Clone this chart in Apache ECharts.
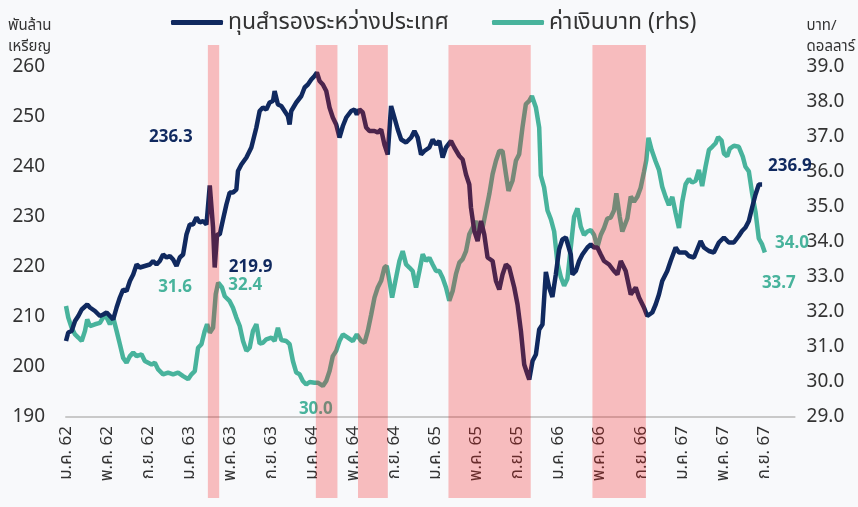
<!DOCTYPE html>
<html>
<head>
<meta charset="utf-8">
<script src="https://cdn.jsdelivr.net/npm/echarts@6/dist/echarts.min.js"></script>
<style>
  html, body { margin: 0; padding: 0; background: #f8f9fb; }
  #main { width: 858px; height: 507px; }
</style>
</head>
<body>
<div id="main"></div>
<script>
// month index: 0 = ม.ค. 62 (Jan 2019)
var xLabels = ['ม.ค. 62','พ.ค. 62','ก.ย. 62','ม.ค. 63','พ.ค. 63','ก.ย. 63','ม.ค. 64','พ.ค. 64','ก.ย. 64',
               'ม.ค. 65','พ.ค. 65','ก.ย. 65','ม.ค. 66','พ.ค. 66','ก.ย. 66','ม.ค. 67','พ.ค. 67','ก.ย. 67'];

// ทุนสำรองระหว่างประเทศ (พันล้านเหรียญ) : [month, value]
var reserves = [
  [0,205.2],[0.22,206.9],[0.55,207.2],[0.88,209.2],[1.2,210.2],[1.53,211.5],[2.07,212.5],[2.33,211.9],
  [2.82,211.2],[3.31,210.2],[3.63,210.5],[3.96,210.9],[4.28,210.2],[4.6,209.5],[4.93,211.9],[5.25,213.9],
  [5.57,215.5],[5.9,215.2],[6.23,217.2],[6.55,218.5],[6.88,220.5],[7.2,219.9],[7.68,220.2],[8.17,220.5],
  [8.49,221.2],[8.82,220.5],[9.14,221.2],[9.46,222.5],[9.8,221.9],[10.12,222.2],[10.44,221.5],[10.77,220.2],
  [11.09,221.9],[11.41,222.5],[11.74,226.5],[12.06,228.5],[12.38,228.5],[12.71,229.9],[13.04,228.9],[13.36,229.2],
  [13.69,228.5],[14.01,236.3],[14.33,227.9],[14.49,219.9],[14.72,226.5],[14.98,226.5],[15.3,229.5],[15.63,232.5],
  [15.95,234.9],[16.27,234.9],[16.6,235.5],[16.76,239.2],[17.09,240.5],[17.58,241.9],[18.06,243.9],[18.55,247.9],
  [18.87,251.2],[19.19,251.9],[19.52,251.5],[19.84,252.9],[20.17,253.2],[20.33,255.2],[20.65,252.5],[20.98,252.2],
  [21.3,251.2],[21.62,250.2],[21.79,248.5],[21.95,251.2],[22.44,252.9],[22.93,254.2],[23.25,255.9],[23.57,256.5],
  [23.9,257.5],[24.22,258.2],[24.45,258.9],[24.71,257.2],[25.03,256.5],[25.36,255.2],[25.68,251.9],[26.0,249.9],
  [26.33,248.5],[26.65,245.9],[26.98,248.2],[27.31,249.9],[27.79,251.2],[28.11,251.5],[28.34,250.5],[28.6,251.5],
  [28.92,250.9],[29.25,247.9],[29.57,247.2],[30.06,247.2],[30.38,246.9],[30.71,247.5],[31.03,244.5],[31.35,242.5],
  [31.68,252.2],[32.0,249.9],[32.33,247.5],[32.66,245.5],[33.14,244.9],[33.63,245.9],[33.95,247.2],[34.27,245.9],
  [34.6,242.5],[34.92,243.2],[35.41,243.9],[35.73,245.5],[36.06,244.5],[36.38,245.2],[36.7,241.9],[37.03,243.9],
  [37.52,245.2],[37.84,243.9],[38.33,242.2],[38.65,241.5],[38.98,238.5],[39.3,236.5],[39.46,231.9],[39.79,227.2],
  [40.11,225.2],[40.44,229.2],[40.76,226.5],[41.08,221.9],[41.57,221.2],[41.9,217.2],[42.22,215.5],[42.54,218.5],
  [42.87,220.5],[43.19,219.9],[43.68,215.9],[44.0,212.5],[44.33,207.2],[44.65,200.5],[44.97,198.5],[45.14,197.5],
  [45.46,201.2],[45.79,202.5],[46.11,207.5],[46.43,208.5],[46.76,219.0],[47.08,215.9],[47.4,214.0],[47.73,218.5],
  [48.05,223.5],[48.37,225.5],[48.71,225.9],[49.19,222.5],[49.35,218.5],[49.68,219.2],[50.0,221.2],[50.32,222.5],
  [50.81,223.9],[51.14,224.5],[51.46,223.9],[51.78,223.9],[52.11,222.5],[52.43,221.2],[52.92,220.5],[53.4,219.2],
  [53.73,218.5],[54.06,221.2],[54.54,219.2],[55.03,214.5],[55.52,215.9],[55.84,213.9],[56.32,211.9],[56.64,210.2],
  [57.13,210.9],[57.46,212.5],[57.78,214.5],[58.1,217.2],[58.59,219.2],[58.92,221.2],[59.41,223.9],[59.73,222.9],
  [60.38,222.9],[60.7,222.2],[61.19,221.9],[61.84,225.2],[62.16,223.9],[62.65,223.2],[63.13,222.9],[63.62,224.9],
  [64.11,225.9],[64.59,224.9],[65.08,224.9],[65.56,226.2],[65.88,227.2],[66.21,227.9],[66.54,229.2],[66.86,231.9],
  [67.19,234.5],[67.51,236.5],[67.83,236.5],[68.0,236.9]
];

// ค่าเงินบาท (บาท/ดอลลาร์, rhs) : [month, value]
var baht = [
  [0,32.17],[0.22,31.84],[0.55,31.55],[0.88,31.36],[1.2,31.27],[1.53,31.17],[1.85,31.46],[2.07,31.79],
  [2.33,31.6],[2.82,31.65],[3.31,31.69],[3.7,31.89],[3.96,31.84],[4.28,31.65],[4.6,31.84],[4.93,31.46],
  [5.25,31.08],[5.57,30.69],[5.9,30.55],[6.23,30.74],[6.55,30.84],[6.88,30.74],[7.36,30.79],[7.68,30.6],
  [8.01,30.55],[8.34,30.5],[8.66,30.55],[8.98,30.36],[9.46,30.22],[9.95,30.27],[10.44,30.22],[10.92,30.27],
  [11.41,30.17],[11.9,30.08],[12.23,30.22],[12.55,30.31],[12.87,30.98],[13.2,31.08],[13.52,31.46],[13.75,31.65],
  [14.01,31.41],[14.33,31.55],[14.59,32.51],[14.83,32.84],[15.2,32.7],[15.47,32.45],[15.95,32.31],[16.27,32.12],
  [16.6,31.84],[16.93,31.6],[17.25,31.17],[17.58,30.89],[17.9,30.98],[18.22,31.46],[18.55,31.65],[18.87,31.1],
  [19.19,31.12],[19.52,31.22],[20.01,31.27],[20.33,31.17],[20.65,31.55],[20.98,31.2],[21.47,31.17],[21.79,31.08],
  [22.11,30.6],[22.44,30.27],[22.76,30.22],[23.08,30.03],[23.41,29.93],[23.74,30.0],[24.22,29.98],[24.54,29.98],
  [25.03,29.89],[25.36,30.03],[25.68,30.31],[26.0,30.74],[26.33,30.89],[26.65,31.17],[26.98,31.36],[27.46,31.27],
  [27.95,31.17],[28.34,31.36],[28.76,31.17],[29.09,31.12],[29.41,31.46],[29.74,31.93],[30.06,32.41],[30.38,32.7],
  [30.71,32.89],[31.03,33.27],[31.25,33.32],[31.52,32.89],[31.78,32.41],[32.1,32.89],[32.49,33.46],[32.81,33.74],
  [33.14,33.36],[33.46,33.27],[33.78,33.17],[34.11,32.7],[34.44,33.17],[34.76,33.65],[35.09,33.46],[35.41,33.55],
  [35.73,33.36],[36.06,33.17],[36.38,33.17],[36.7,32.98],[37.03,32.7],[37.35,32.32],[37.68,32.6],[38.0,33.08],
  [38.33,33.41],[38.65,33.51],[38.98,33.74],[39.3,34.22],[39.62,34.41],[39.95,34.6],[40.27,34.27],[40.6,34.41],
  [40.92,34.89],[41.25,35.37],[41.57,35.94],[41.9,36.32],[42.22,36.6],[42.54,36.6],[42.87,35.94],[43.12,35.46],
  [43.51,35.75],[43.84,36.32],[44.16,36.51],[44.48,37.27],[44.81,37.94],[45.14,38.03],[45.4,38.17],[45.79,37.84],
  [46.11,37.27],[46.27,35.9],[46.59,35.56],[46.92,34.9],[47.25,34.65],[47.57,34.3],[47.89,33.4],[48.22,33.0],
  [48.54,32.75],[48.86,32.95],[49.19,33.85],[49.51,34.72],[49.84,34.96],[50.16,34.44],[50.48,34.2],[50.81,34.3],
  [51.14,34.34],[51.46,34.2],[51.78,33.85],[52.11,34.2],[52.43,34.4],[52.75,34.67],[53.08,34.7],[53.4,34.9],
  [53.63,35.39],[53.96,34.72],[54.21,34.3],[54.7,34.67],[55.03,35.3],[55.35,35.15],[55.67,35.29],[56.0,35.55],
  [56.32,36.0],[56.55,36.34],[56.76,36.98],[57.07,36.63],[57.46,36.3],[57.78,36.06],[58.1,35.58],[58.43,35.29],
  [58.75,35.05],[59.08,35.29],[59.41,34.82],[59.73,34.4],[60.05,35.15],[60.38,35.65],[60.7,35.8],[61.02,35.7],
  [61.35,35.75],[61.67,36.06],[61.99,35.6],[62.32,36.15],[62.65,36.63],[62.97,36.72],[63.3,36.82],[63.55,37.0],
  [63.88,36.9],[64.11,36.53],[64.43,36.45],[64.69,36.67],[65.08,36.75],[65.56,36.72],[65.95,36.44],[66.21,36.15],
  [66.54,36.02],[66.86,35.39],[67.19,34.86],[67.51,34.1],[67.83,33.93],[68.1,33.7]
];

// shaded periods [start month, end month]
var bands = [[13.8, 14.9], [24.3, 26.4], [28.4, 31.3], [37.2, 45.2], [51.2, 56.4]];

// annotated points: [index into series, text]
var reserveNotes = [[41, '236.3'], [43, '219.9'], [reserves.length - 1, '236.9']];
var bahtNotes = [[39, '31.6'], [43, '32.4'], [72, '30.0'], [baht.length - 2, '34.0'], [baht.length - 1, '33.7']];

var NAVY = '#10295f';
var TEAL = '#48b39c';
var FONT = '"Noto Sans", "Noto Sans Thai", "DejaVu Sans", sans-serif';

var reserveOffsets = [[-39, -48], [36, 0], [26, -16]];
var bahtOffsets = [[-32, -37], [27, 3], [-7, 23], [30, -1], [14, 31]];

function notes(list, series, offsets) {
  return list.map(function (n, i) {
    var p = series[n[0]];
    return { coord: [p[0], p[1]], value: n[1], label: { offset: offsets[i] } };
  });
}

var legendBase = {
  top: 6,
  itemWidth: 52,
  itemHeight: 5,
  icon: 'roundRect'
};

var chart = echarts.init(document.getElementById('main'));
var option = {
  backgroundColor: '#f8f9fb',
  textStyle: { fontFamily: FONT },
  legend: [
    Object.assign({}, legendBase, {
      left: 166,
      data: ['ทุนสำรองระหว่างประเทศ'],
      textStyle: { fontSize: 23, color: '#333', fontFamily: FONT }
    }),
    Object.assign({}, legendBase, {
      left: 487,
      data: ['ค่าเงินบาท (rhs)'],
      textStyle: { fontSize: 23, color: '#333', fontFamily: FONT }
    })
  ],
  grid: [
    { left: 66, right: 62, top: 67, bottom: 90 },
    { left: 66, right: 62, top: 45, bottom: 9 }
  ],
  xAxis: [
    {
      type: 'value', gridIndex: 0, min: 0, max: 71, interval: 4,
      axisLine: { lineStyle: { color: '#c9c9c9', width: 2 } },
      axisTick: { show: false },
      splitLine: { show: false },
      axisLabel: {
        rotate: 90, margin: 9, fontSize: 17, color: '#333',
        formatter: function (v) { return xLabels[v / 4] || ''; }
      }
    },
    { type: 'value', gridIndex: 1, min: 0, max: 71, show: false }
  ],
  yAxis: [
    {
      type: 'value', gridIndex: 0, min: 190, max: 260, interval: 10,
      name: 'พันล้าน\nเหรียญ', nameGap: 10,
      nameTextStyle: { fontSize: 15, color: '#333', align: 'left', padding: [0, 0, 0, -58], lineHeight: 21 },
      axisLine: { show: false }, axisTick: { show: false }, splitLine: { show: false },
      axisLabel: { fontSize: 19, color: '#333', margin: 21 }
    },
    {
      type: 'value', gridIndex: 0, min: 29, max: 39, interval: 1, position: 'right',
      name: 'บาท/\nดอลลาร์', nameGap: 10,
      nameTextStyle: { fontSize: 15, color: '#333', align: 'left', padding: [0, 0, 0, 12], lineHeight: 21 },
      axisLine: { show: false }, axisTick: { show: false }, splitLine: { show: false },
      axisLabel: { fontSize: 19, color: '#333', margin: 12, formatter: function (v) { return v.toFixed(1); } }
    },
    { type: 'value', gridIndex: 1, min: 0, max: 1, show: false }
  ],
  series: [
    {
      name: 'ค่าเงินบาท (rhs)',
      type: 'line', xAxisIndex: 0, yAxisIndex: 1, z: 2,
      data: baht, showSymbol: false, symbol: 'none',
      lineStyle: { color: TEAL, width: 4.5 }, itemStyle: { color: TEAL },
      markPoint: {
        symbol: 'circle', symbolSize: 0,
        label: { show: true, position: 'inside', color: TEAL, fontSize: 17, fontWeight: 'bold',
                 formatter: function (p) { return p.value; } },
        data: notes(bahtNotes, baht, bahtOffsets)
      }
    },
    {
      name: 'ทุนสำรองระหว่างประเทศ',
      type: 'line', xAxisIndex: 0, yAxisIndex: 0, z: 3,
      data: reserves, showSymbol: false, symbol: 'none',
      lineStyle: { color: NAVY, width: 4.5 }, itemStyle: { color: NAVY },
      markPoint: {
        symbol: 'circle', symbolSize: 0,
        label: { show: true, position: 'inside', color: NAVY, fontSize: 17, fontWeight: 'bold',
                 formatter: function (p) { return p.value; } },
        data: notes(reserveNotes, reserves, reserveOffsets)
      }
    },
    {
      name: 'bands',
      type: 'line', xAxisIndex: 1, yAxisIndex: 2, z: 10,
      data: [], silent: true,
      markArea: {
        silent: true, z: 10,
        itemStyle: { color: 'rgba(245,25,25,0.27)' },
        data: bands.map(function (b) { return [{ xAxis: b[0], yAxis: 0 }, { xAxis: b[1], yAxis: 1 }]; })
      }
    }
  ]
};
chart.setOption(option);
</script>
</body>
</html>
